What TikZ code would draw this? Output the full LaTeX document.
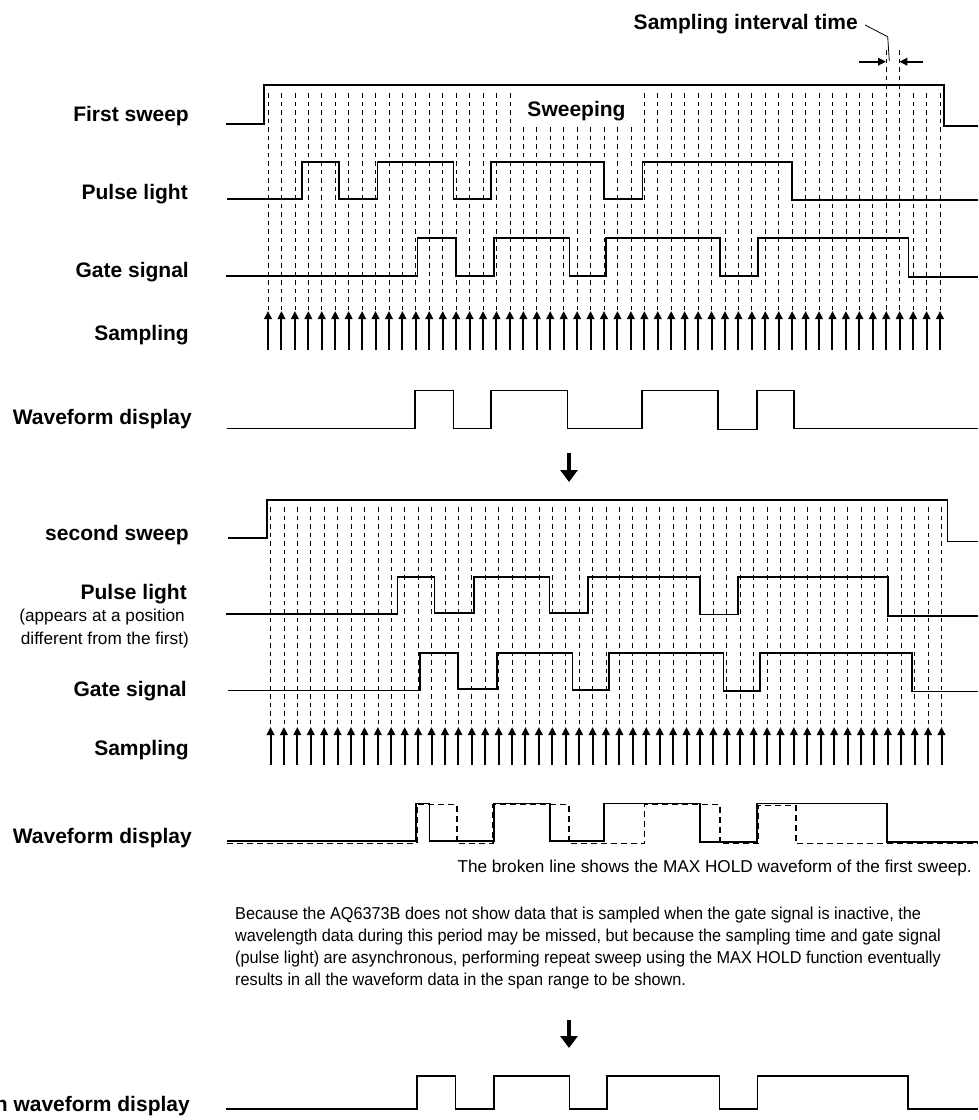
\documentclass[tikz,border=0pt]{standalone}
\usepackage{fontspec}
\setmainfont{Liberation Sans}
\newfontfamily\parafont[FakeStretch=0.945]{Liberation Sans}
\usetikzlibrary{arrows.meta}
\begin{document}
\begin{tikzpicture}[x=1pt,y=-1pt,
  sig/.style={line width=1.6pt, line join=miter},
  maxhold/.style={line width=1.6pt, dash pattern=on 6pt off 4pt},
  grid/.style={line width=0.7pt, dash pattern=on 4.5pt off 4pt},
  samp/.style={line width=2pt, -{Triangle[width=7.5pt,length=8pt]}},
  harr/.style={line width=2pt, -{Triangle[width=7.5pt,length=8pt]}},
  bigdown/.style={line width=4.6pt, -{Triangle[width=17pt,length=12pt]}},
  leader/.style={line width=0.8pt},
  lbl/.style={font=\fontsize{21}{25}\selectfont\bfseries, anchor=base east, inner sep=0pt},
  txt/.style={font=\fontsize{17.2}{22}\selectfont, inner sep=0pt},
  ptxt/.style={font=\fontsize{17.2}{22}\selectfont\parafont, inner sep=0pt, anchor=base west}]
\useasboundingbox (0,0) rectangle (978,1120);

% ---------- first sweep: sampling grid and arrows ----------
\foreach \k in {0,...,50}{
  \pgfmathsetmacro\xx{268+13.44*\k}
  \pgfmathsetmacro\yt{(\k>=19 && \k<=27) ? 127 : ((\k==46 || \k==47) ? 50 : 93)}
  \draw[grid] (\xx,\yt) -- (\xx,311);
  \draw[samp] (\xx,350) -- (\xx,311);
}

% ---------- labels (first) ----------
\node[lbl] (l1) at (189,121.5) {First sweep};
\node[lbl] (l2) at (188,199) {Pulse light};
\node[lbl] (l3) at (189,277) {Gate signal};
\node[lbl] (l4) at (189,340) {Sampling};
\node[lbl] (l5) at (192,424.5) {Waveform display};
\node[lbl, anchor=base] (sw) at (576.5,116) {Sweeping};
\node[lbl] (sit) at (858,29) {Sampling interval time};

% sampling interval marker
\coordinate (ia1) at (859,61.7);
\coordinate (ia2) at (886,61.7);
\coordinate (ib1) at (923,61.7);
\coordinate (ib2) at (899.4,61.7);
\draw[harr] (ia1) -- (ia2);
\draw[harr] (ib1) -- (ib2);
\coordinate (ld1) at (865,25);
\coordinate (ld2) at (887.7,36.7);
\coordinate (ld3) at (889.3,61);
\draw[leader] (ld1) -- (ld2) -- (ld3);

% ---------- first sweep signals ----------
\draw[sig] (226,124) -| (264,85) -| (944,126) -- (978,126);
\draw[sig] (227,199) -| (301.7,162) -| (339,199) -| (377.3,162) -| (453.3,199) -| (491,162) -| (604,199) -| (642.3,162) -| (792,200) -- (978,200);
\draw[sig] (226,276) -| (417.3,238) -| (455.7,276) -| (494,238) -| (569.3,276) -| (606,238) -| (720,276) -| (757.7,238) -| (908.3,277) -- (978,277);
\draw[sig] (227,428.5) -| (415,390.5) -| (453.3,428.5) -| (490.7,390.5) -| (567.3,428.5) -| (641.7,390.5) -| (717.7,429.5) -| (756.7,390.5) -| (794,428.5) -- (978,428.5);

\draw[bigdown] (569,453) -- (569,482);

% ---------- second sweep: sampling grid and arrows ----------
\foreach \k in {0,...,50}{
  \pgfmathsetmacro\xx{270.5+13.42*\k}
  \draw[grid] (\xx,507) -- (\xx,727);
  \draw[samp] (\xx,765) -- (\xx,727);
}

% ---------- labels (second) ----------
\node[lbl] (m1) at (189,540.5) {second sweep};
\node[lbl] (m2) at (187,599.5) {Pulse light};
\node[txt, anchor=base east] (m2a) at (185,621.5) {(appears at a position};
\node[txt, anchor=base east] (m2b) at (189,644) {different from the first)};
\node[lbl] (m3) at (187,696) {Gate signal};
\node[lbl] (m4) at (189,755.5) {Sampling};
\node[lbl] (m5) at (192,843) {Waveform display};

% ---------- second sweep signals ----------
\draw[sig] (228,538) -| (266.7,500) -| (947.3,541.5) -- (978,541.5);
\draw[sig] (226,614) -| (397.3,577) -| (434.3,613) -| (474,577) -| (549.3,613) -| (587.7,577) -| (700,614.5) -| (737.7,577) -| (887.7,616) -- (978,616);
\draw[sig] (228,690.5) -| (420,653) -| (457.7,689) -| (496.7,653) -| (572.3,690) -| (609,653) -| (723.3,691) -| (760,653) -| (911.7,691.5) -- (978,691.5);
\draw[maxhold] (227,843.5) -| (416.7,804.5) -| (456.7,843.5) -| (493,804.5) -| (569,843.5) -| (644.3,804.5) -| (720,843.5) -| (758,805.5) -| (796,843.5) -- (978,843.5);
\draw[sig] (227,841) -| (416,803.5) -| (429.3,841) -| (494,803.5) -| (550,841) -| (604,803.5) -| (700,842) -| (756.7,803.5) -| (886.7,842) -- (978,842);

% ---------- notes ----------
\node[txt, anchor=base east] (note) at (972,872) {The broken line shows the MAX HOLD waveform of the first sweep.};
\node[ptxt] (p1) at (235,919) {Because the AQ6373B does not show data that is sampled when the gate signal is inactive, the};
\node[ptxt] (p2) at (235,941) {wavelength data during this period may be missed, but because the sampling time and gate signal};
\node[ptxt] (p3) at (235,963) {(pulse light) are asynchronous, performing repeat sweep using the MAX HOLD function eventually};
\node[ptxt] (p4) at (235,985) {results in all the waveform data in the span range to be shown.};

\draw[bigdown] (569,1020) -- (569,1048);

% ---------- final waveform ----------
\node[lbl] (f1) at (190,1111.5) {n waveform display};
\draw[sig] (226,1109) -| (417.2,1076) -| (455.4,1109) -| (494,1076) -| (569.4,1109) -| (606.7,1076) -| (719.3,1109) -| (757.5,1076) -| (907.8,1109) -- (978,1109);
\end{tikzpicture}
\end{document}
